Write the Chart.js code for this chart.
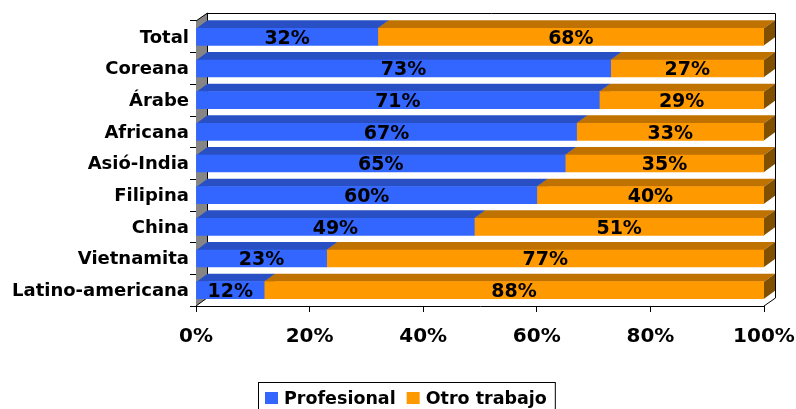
<!DOCTYPE html>
<html>
<head>
<meta charset="utf-8">
<script src="https://cdn.jsdelivr.net/npm/chart.js@4.4.0/dist/chart.umd.min.js"></script>
<style>
html, body { margin: 0; padding: 0; background: #fff; }
</style>
</head>
<body>
<canvas id="plot" width="796" height="409"></canvas>
<script>
const categories = ['Total', 'Coreana', 'Árabe', 'Africana', 'Asió-India', 'Filipina', 'China', 'Vietnamita', 'Latino-americana'];
const profesional = [32, 73, 71, 67, 65, 60, 49, 23, 12];
const otroTrabajo = [68, 27, 29, 33, 35, 40, 51, 77, 88];
const xTicks = [0, 20, 40, 60, 80, 100];
const seriesNames = ['Profesional', 'Otro trabajo'];

// 3D look: depth of the bars and walls
const DX = 11, DY = 8;
const FONT = '"DejaVu Sans", Verdana, sans-serif';

const faceColors = [
    { front: '#3366FF', top: '#2850C4', side: '#1E3C94' },
    { front: '#FF9900', top: '#C07200', side: '#805000' },
];

function barBox(el) {
    const p = el.getProps(['x', 'y', 'base', 'height'], true);
    return {
        left: Math.min(p.base, p.x),
        right: Math.max(p.base, p.x),
        top: p.y - p.height / 2,
        bottom: p.y + p.height / 2,
        cy: p.y,
    };
}

function poly(ctx, pts, fill) {
    ctx.beginPath();
    ctx.moveTo(pts[0][0], pts[0][1]);
    for (let i = 1; i < pts.length; i++) ctx.lineTo(pts[i][0], pts[i][1]);
    ctx.closePath();
    ctx.fillStyle = fill;
    ctx.fill();
}

const threeD = {
    id: 'threeD',
    beforeDatasetsDraw(chart) {
        const { ctx, chartArea: a } = chart;
        ctx.save();
        // back wall
        poly(ctx, [[a.left + DX, a.top - DY], [a.right + DX, a.top - DY], [a.right + DX, a.bottom - DY], [a.left + DX, a.bottom - DY]], '#fff');
        ctx.strokeStyle = '#000';
        ctx.lineWidth = 1;
        ctx.beginPath();
        ctx.moveTo(a.left + DX, a.top - DY + 0.5);
        ctx.lineTo(a.right + DX + 0.5, a.top - DY + 0.5);
        ctx.lineTo(a.right + DX + 0.5, a.bottom - DY);
        ctx.stroke();
        // left wall
        poly(ctx, [[a.left, a.top], [a.left + DX, a.top - DY], [a.left + DX, a.bottom - DY], [a.left, a.bottom]], '#858585');
        ctx.beginPath();
        ctx.moveTo(a.left, a.top);
        ctx.lineTo(a.left + DX + 0.5, a.top - DY);
        ctx.lineTo(a.left + DX + 0.5, a.bottom - DY);
        ctx.stroke();
        // floor
        poly(ctx, [[a.left, a.bottom], [a.left + DX, a.bottom - DY], [a.right + DX, a.bottom - DY], [a.right, a.bottom]], '#fff');
        ctx.beginPath();
        ctx.moveTo(a.left, a.bottom);
        ctx.lineTo(a.left + DX, a.bottom - DY);
        ctx.moveTo(a.right + DX + 0.5, a.bottom - DY);
        ctx.lineTo(a.right, a.bottom);
        ctx.stroke();

        // top and end faces of every bar
        chart.data.datasets.forEach((ds, di) => {
            const meta = chart.getDatasetMeta(di);
            const c = faceColors[di];
            meta.data.forEach(el => {
                const b = barBox(el);
                poly(ctx, [[b.left, b.top], [b.left + DX, b.top - DY], [b.right + DX, b.top - DY], [b.right, b.top]], c.top);
                poly(ctx, [[b.right, b.top], [b.right + DX, b.top - DY], [b.right + DX, b.bottom - DY], [b.right, b.bottom]], c.side);
            });
        });
        ctx.restore();
    },
    afterDatasetsDraw(chart) {
        const { ctx } = chart;
        ctx.save();
        ctx.font = 'bold 19px ' + FONT;
        ctx.fillStyle = '#000';
        ctx.textAlign = 'center';
        ctx.textBaseline = 'middle';
        chart.data.datasets.forEach((ds, di) => {
            chart.getDatasetMeta(di).data.forEach((el, i) => {
                const b = barBox(el);
                ctx.fillText(ds.data[i] + '%', (b.left + b.right) / 2, b.cy + 2);
            });
        });
        ctx.restore();
    },
    afterDraw(chart) {
        // legend with a frame, like the original
        const { ctx } = chart;
        ctx.save();
        ctx.font = 'bold 17.5px ' + FONT;
        ctx.textBaseline = 'alphabetic';
        ctx.textAlign = 'left';
        const boxLeft = 258, boxTop = 382;
        let x = boxLeft + 7;
        chart.data.datasets.forEach((ds, di) => {
            ctx.fillStyle = ds.backgroundColor;
            ctx.fillRect(x, 392, 13, 12);
            x += 19;
            ctx.fillStyle = '#000';
            ctx.fillText(ds.label, x, 404);
            x += ctx.measureText(ds.label).width + 11;
        });
        ctx.strokeStyle = '#000';
        ctx.lineWidth = 1;
        ctx.strokeRect(boxLeft + 0.5, boxTop + 0.5, x - 11 + 8 - boxLeft, 40);
        ctx.restore();
    }
};

const ctx = document.getElementById('plot').getContext('2d');
const chart = new Chart(ctx, {
    type: 'bar',
    data: {
        labels: categories,
        datasets: [
            { label: seriesNames[0], data: profesional, backgroundColor: faceColors[0].front, borderWidth: 0, barThickness: 17 },
            { label: seriesNames[1], data: otroTrabajo, backgroundColor: faceColors[1].front, borderWidth: 0, barThickness: 17 },
        ],
    },
    options: {
        indexAxis: 'y',
        responsive: false,
        animation: false,
        devicePixelRatio: 1,
        layout: { padding: { top: 21, right: 32, bottom: 0, left: 0 } },
        plugins: {
            legend: { display: false },
            tooltip: { enabled: false },
        },
        scales: {
            x: {
                stacked: true,
                min: 0,
                max: 100,
                afterBuildTicks: s => { s.ticks = xTicks.map(v => ({ value: v })); },
                afterFit: s => { s.height = 103; s.paddingLeft = 0; s.paddingRight = 0; },
                grid: { drawOnChartArea: false, tickLength: 6, color: '#000' },
                border: { color: '#000' },
                ticks: {
                    color: '#000',
                    padding: 13,
                    maxRotation: 0,
                    font: { family: FONT, size: 20, weight: 'bold' },
                    callback: v => v + '%',
                },
            },
            y: {
                stacked: true,
                afterFit: s => { s.width = 196; s.paddingTop = 0; s.paddingBottom = 0; },
                grid: { drawOnChartArea: false, tickLength: 6, color: '#000' },
                border: { color: '#000' },
                ticks: {
                    color: '#000',
                    padding: 1,
                    labelOffset: 1,
                    font: { family: FONT, size: 18, weight: 'bold' },
                },
            },
        },
    },
    plugins: [threeD],
});
</script>
</body>
</html>
